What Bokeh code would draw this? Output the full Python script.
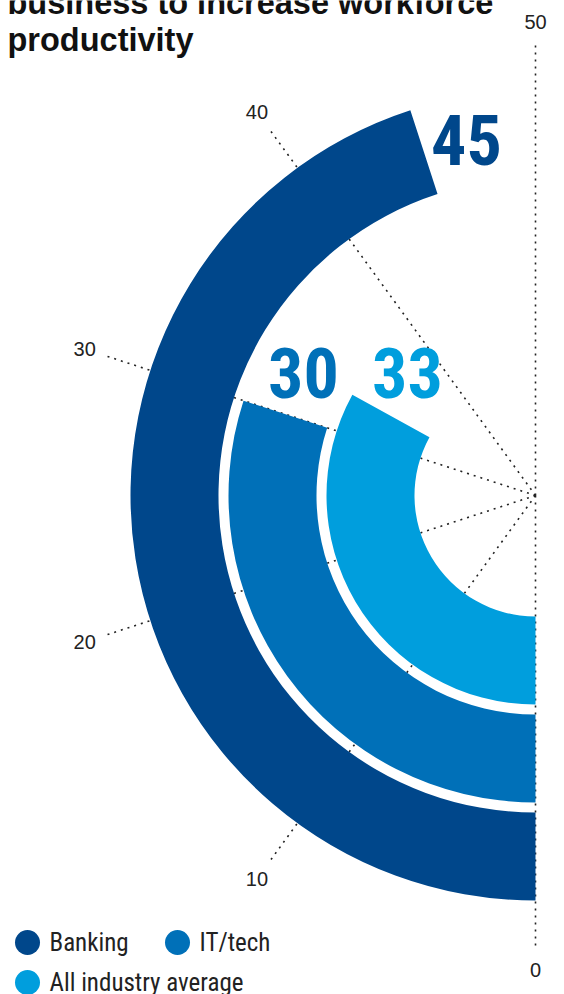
import numpy as np
from bokeh.plotting import figure
from bokeh.models import Range1d
from bokeh.core.properties import value
from bokeh.embed import file_html
from bokeh.resources import INLINE

# ---------------- data ----------------
title_lines = ["business to increase workforce", "productivity"]
series = ["Banking", "IT/tech", "All industry average"]
values = [45, 30, 33]
colors = ["#00478b", "#0070b8", "#009edd"]
tick_values = [0, 10, 20, 30, 40, 50]
tick_labels = ["0", "10", "20", "30", "40", "50"]
scale_max = 50

# ---------------- style / geometry ----------------
W, H = 564, 994
CX, CY = 535, 495          # page position of the chart centre
OUTER0, THICK, STEP = 405, 88, 98
R_LABEL, R_LINE = 474, 454
NARROW = "Roboto Condensed, Open Sans Condensed, DejaVu Sans Condensed, sans-serif"
SANS = "Liberation Sans, Arial, sans-serif"


def px(xp):
    return xp - CX


def py(yp):
    return CY - yp


def theta(v):
    # 0 at bottom, increasing clockwise through the left side to the top
    return np.deg2rad(270.0 - 180.0 * np.asarray(v, dtype=float) / scale_max)


p = figure(width=W, height=H, output_backend="svg", toolbar_location=None,
           x_range=Range1d(px(0), px(W)), y_range=Range1d(py(H), py(0)),
           min_border=0, outline_line_color=None, background_fill_color="white",
           border_fill_color="white")
p.axis.visible = False
p.grid.visible = False

# dotted radial guide lines (behind bars)
t = theta(tick_values)
p.segment(x0=0, y0=0, x1=R_LINE * np.cos(t), y1=R_LINE * np.sin(t),
          line_color="#222222", line_width=1.6, line_dash="2 5")

# bars
for i, (v, c) in enumerate(zip(values, colors)):
    outer = OUTER0 - i * STEP
    p.annular_wedge(x=0, y=0, inner_radius=outer - THICK, outer_radius=outer,
                    start_angle=float(theta(v)), end_angle=float(theta(0)),
                    direction="anticlock", fill_color=c, line_color=None)

# tick labels
p.text(x=R_LABEL * np.cos(t), y=R_LABEL * np.sin(t), text=tick_labels,
       text_align="center", text_baseline="middle", text_color="#222222",
       text_font=value(SANS), text_font_size="20px")

# value labels (page positions of the label centres)
label_pos = [(466, 139), (303, 372), (407, 372)]
for v, c, (lx, ly) in zip(values, colors, label_pos):
    p.text(x=[px(lx)], y=[py(ly)], text=[str(v)], text_align="center",
           text_baseline="middle", text_color=c, text_font=value(NARROW),
           text_font_size="70px", text_font_style="bold")

# title
for j, line in enumerate(title_lines):
    p.text(x=[px(7)], y=[py(2 + 37 * j)], text=[line], text_align="left",
           text_baseline="middle", text_color="#111111",
           text_font=value(SANS), text_font_size="32.5px", text_font_style="bold")

# legend
legend_pos = [(27, 942), (177, 942), (27, 982)]
for s, c, (lx, ly) in zip(series, colors, legend_pos):
    p.scatter(x=[px(lx)], y=[py(ly)], size=25, marker="circle",
              fill_color=c, line_color=None)
    p.text(x=[px(lx + 22)], y=[py(ly)], text=[s], text_align="left",
           text_baseline="middle", text_color="#222222",
           text_font=value(NARROW), text_font_size="25px")

open("out.html", "w").write(file_html(p, INLINE))
